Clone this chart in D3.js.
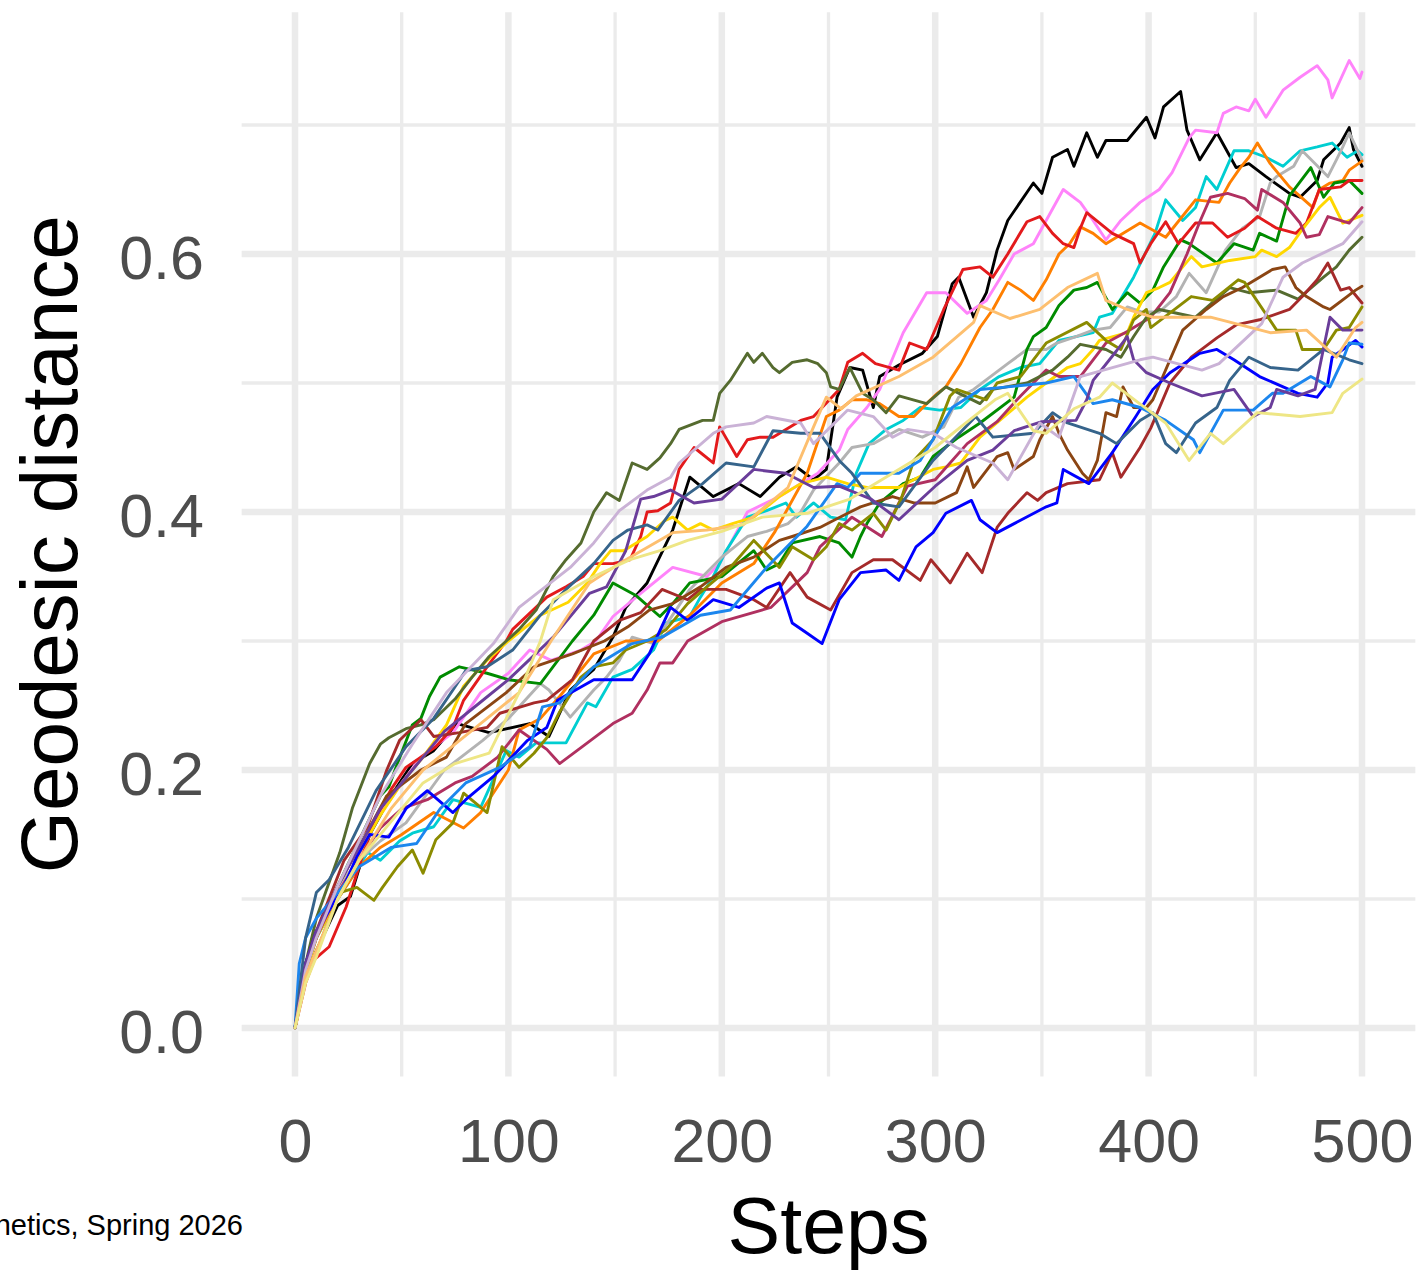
<!DOCTYPE html>
<html>
<head>
<meta charset="utf-8">
<script src="https://cdn.jsdelivr.net/npm/d3@7"></script>
<style>
  body { margin: 0; background: #fff; }
  text { font-family: "Liberation Sans", Arial, Helvetica, sans-serif; }
</style>
</head>
<body>
<div id="chart-area"></div>
<script>
// ---- data as [step, geodesic distance] ----
const black = [[0,0],[5,.04],[10,.06],[20,.095],[26,.102],[35,.15],[45,.18],[55,.205],[65,.215],[76,.236],[91,.229],[110,.236],[119,.226],[129,.262],[140,.278],[149,.303],[155,.326],[165,.345],[177,.386],[185,.427],[196,.412],[208,.422],[218,.412],[227,.427],[235,.435],[243,.425],[249,.433],[254,.489],[260,.512],[266,.51],[271,.481],[274,.505],[283,.514],[294,.523],[301,.536],[308,.577],[311,.582],[318,.551],[324,.57],[329,.603],[334,.626],[346,.655],[350,.647],[355,.675],[362,.681],[365,.668],[371,.694],[376,.675],[380,.688],[390,.688],[399,.706],[403,.69],[407,.714],[415,.726],[418,.696],[424,.673],[432,.694],[441,.667],[447,.67],[455,.66],[466,.647],[471,.644],[479,.657],[482,.673],[490,.686],[494,.698],[496,.681],[500,.668]];
const orchid = [[0,0],[5,.045],[10,.075],[20,.11],[26,.12],[38,.161],[50,.19],[59,.21],[74,.229],[87,.26],[100,.275],[110,.293],[120,.285],[134,.293],[141,.30],[149,.319],[162,.337],[177,.357],[193,.35],[199,.36],[212,.40],[227,.412],[235,.42],[245,.43],[255,.448],[259,.464],[268,.481],[274,.495],[285,.539],[296,.57],[305,.57],[315,.554],[324,.564],[330,.58],[337,.60],[346,.608],[352,.626],[360,.65],[368,.64],[374,.626],[380,.611],[387,.626],[396,.64],[405,.65],[411,.663],[419,.69],[422,.696],[432,.694],[435,.709],[441,.714],[447,.711],[450,.72],[455,.706],[463,.727],[471,.737],[479,.746],[484,.735],[486,.721],[494,.75],[499,.736],[500,.741]];
const turquoise = [[0,0],[5,.05],[10,.07],[20,.10],[28,.12],[34,.136],[40,.13],[49,.145],[55,.151],[65,.156],[74,.177],[87,.171],[99,.215],[105,.21],[113,.221],[121,.221],[127,.221],[137,.252],[141,.249],[149,.272],[158,.278],[168,.293],[174,.314],[185,.319],[190,.334],[196,.35],[202,.37],[212,.396],[221,.401],[230,.407],[235,.396],[243,.407],[251,.396],[258,.394],[263,.43],[269,.453],[277,.464],[285,.471],[293,.481],[302,.479],[312,.481],[321,.495],[330,.505],[340,.512],[349,.515],[358,.533],[366,.536],[374,.539],[377,.551],[383,.554],[393,.582],[403,.616],[408,.642],[416,.626],[422,.636],[427,.66],[432,.65],[440,.68],[447,.68],[455,.675],[463,.668],[471,.68],[479,.683],[486,.686],[493,.675],[498,.68],[500,.677]];
const gray = [[0,0],[5,.045],[10,.07],[20,.11],[30,.13],[40,.145],[52,.159],[70,.20],[88,.223],[100,.24],[115,.267],[119,.262],[129,.241],[140,.262],[146,.272],[152,.285],[158,.303],[168,.298],[185,.34],[200,.365],[212,.381],[221,.385],[231,.391],[237,.40],[243,.417],[255,.438],[261,.45],[271,.453],[283,.464],[294,.458],[304,.466],[311,.489],[318,.495],[334,.515],[343,.526],[352,.526],[357,.531],[366,.536],[374,.541],[382,.543],[390,.559],[397,.555],[405,.555],[413,.567],[419,.585],[427,.57],[436,.603],[444,.62],[452,.629],[457,.655],[460,.66],[468,.668],[472,.68],[484,.66],[488,.673],[491,.683],[494,.694],[500,.673]];
const orange = [[0,0],[5,.05],[10,.075],[20,.10],[30,.125],[40,.14],[50,.15],[65,.167],[79,.155],[87,.167],[100,.20],[105,.231],[115,.24],[124,.257],[140,.29],[155,.30],[170,.30],[185,.32],[200,.345],[215,.36],[225,.385],[240,.43],[249,.474],[255,.479],[261,.487],[268,.487],[274,.484],[283,.474],[290,.474],[296,.484],[301,.492],[305,.497],[312,.515],[321,.543],[327,.557],[334,.578],[340,.572],[346,.564],[352,.58],[358,.60],[363,.608],[368,.621],[374,.616],[380,.608],[396,.624],[408,.613],[422,.642],[433,.64],[438,.655],[443,.667],[447,.675],[451,.686],[457,.67],[466,.652],[477,.636],[480,.65],[485,.655],[491,.657],[494,.665],[500,.672]];
const green = [[0,0],[5,.045],[10,.07],[20,.11],[30,.145],[40,.18],[44,.187],[48,.205],[55,.235],[59,.24],[63,.257],[68,.272],[77,.28],[90,.275],[100,.27],[115,.267],[130,.30],[140,.32],[149,.345],[160,.335],[171,.319],[177,.329],[185,.345],[200,.35],[215,.37],[221,.355],[227,.36],[233,.376],[246,.381],[255,.376],[261,.365],[265,.381],[268,.391],[274,.407],[285,.422],[293,.427],[299,.443],[311,.458],[321,.469],[337,.489],[343,.526],[346,.536],[352,.543],[358,.56],[365,.572],[371,.574],[376,.578],[383,.557],[390,.57],[396,.562],[402,.572],[407,.59],[415,.611],[419,.608],[432,.593],[440,.608],[449,.603],[452,.616],[460,.61],[466,.645],[476,.667],[482,.644],[487,.655],[494,.657],[500,.647]];
const red = [[0,0],[5,.035],[9,.053],[16,.063],[24,.094],[30,.125],[37,.16],[45,.185],[52,.202],[59,.21],[66,.218],[74,.233],[79,.254],[90,.28],[99,.30],[102,.309],[118,.334],[127,.342],[135,.35],[140,.36],[149,.36],[157,.363],[162,.381],[165,.40],[170,.401],[176,.407],[180,.433],[187,.45],[196,.438],[199,.466],[207,.443],[212,.456],[218,.458],[224,.458],[231,.465],[237,.471],[243,.474],[255,.495],[259,.516],[266,.523],[272,.515],[283,.51],[288,.531],[296,.526],[304,.557],[313,.588],[321,.59],[327,.582],[334,.60],[343,.625],[349,.629],[355,.616],[360,.608],[365,.605],[368,.62],[371,.632],[383,.616],[393,.608],[396,.593],[401,.608],[408,.625],[414,.608],[422,.624],[430,.624],[437,.613],[445,.62],[451,.629],[460,.62],[469,.616],[474,.624],[480,.65],[490,.652],[494,.657],[500,.657]];
const gold = [[0,0],[5,.04],[10,.07],[20,.10],[30,.135],[40,.165],[50,.19],[60,.21],[71,.235],[79,.265],[90,.285],[100,.30],[115,.32],[128,.33],[137,.345],[143,.36],[148,.37],[154,.37],[165,.381],[173,.393],[177,.396],[184,.386],[190,.391],[196,.386],[205,.391],[215,.396],[227,.412],[237,.422],[249,.427],[259,.422],[268,.419],[283,.419],[299,.433],[305,.435],[312,.438],[321,.458],[343,.489],[352,.50],[362,.512],[368,.515],[374,.526],[377,.533],[390,.539],[393,.551],[399,.57],[405,.574],[410,.578],[420,.598],[425,.59],[438,.595],[450,.598],[453,.603],[460,.598],[466,.605],[472,.619],[480,.636],[485,.644],[491,.624],[500,.63]];
const maroon = [[0,0],[5,.05],[10,.07],[20,.105],[30,.13],[40,.155],[50,.17],[62,.177],[75,.19],[83,.195],[95,.21],[105,.231],[118,.216],[124,.205],[137,.221],[149,.236],[158,.244],[165,.262],[171,.283],[177,.283],[184,.30],[200,.315],[223,.326],[240,.353],[246,.373],[261,.396],[275,.381],[287,.42],[300,.425],[315,.453],[329,.47],[340,.49],[352,.51],[358,.505],[368,.505],[380,.531],[390,.54],[401,.551],[410,.57],[418,.60],[424,.625],[429,.644],[437,.647],[445,.643],[451,.634],[453,.65],[463,.64],[471,.624],[474,.613],[480,.615],[484,.629],[494,.624],[500,.636]];
const oliveDrab = [[0,0],[5,.05],[10,.085],[21,.136],[27,.171],[35,.205],[40,.22],[44,.225],[52,.232],[59,.235],[65,.239],[75,.255],[83,.272],[91,.288],[105,.309],[113,.324],[121,.35],[127,.363],[134,.376],[140,.40],[146,.415],[152,.409],[158,.438],[165,.433],[171,.442],[176,.453],[180,.464],[191,.471],[196,.471],[199,.492],[204,.502],[212,.523],[215,.516],[219,.523],[224,.512],[227,.508],[233,.516],[240,.518],[245,.515],[249,.508],[251,.497],[255,.495],[260,.512],[266,.492],[271,.487],[277,.477],[283,.49],[296,.484],[305,.497],[321,.484],[327,.495],[343,.50],[355,.51],[362,.52],[368,.53],[380,.526],[387,.52],[393,.536],[399,.551],[405,.557],[422,.551],[438,.574],[447,.57],[460,.572],[470,.565],[482,.582],[488,.59],[494,.603],[500,.613]];
const brown = [[0,0],[5,.05],[10,.075],[23,.13],[34,.156],[43,.20],[49,.223],[59,.239],[65,.226],[77,.229],[90,.233],[96,.244],[112,.252],[118,.254],[130,.27],[140,.30],[152,.316],[162,.322],[172,.34],[184,.332],[190,.34],[202,.34],[215,.332],[221,.326],[232,.353],[240,.334],[251,.324],[261,.353],[271,.363],[280,.363],[293,.347],[298,.363],[307,.345],[315,.368],[322,.353],[329,.388],[334,.399],[343,.415],[348,.409],[352,.415],[362,.422],[377,.425],[383,.446],[387,.427],[396,.45],[401,.465],[410,.50],[420,.52],[432,.535],[441,.545],[452,.549],[466,.557],[472,.567],[479,.58],[484,.593],[490,.572],[494,.574],[500,.562]];
const saddle = [[0,0],[5,.045],[10,.07],[20,.11],[30,.14],[43,.18],[59,.20],[71,.21],[80,.236],[99,.26],[112,.28],[130,.29],[145,.30],[156,.311],[166,.324],[177,.329],[190,.342],[202,.357],[215,.365],[227,.378],[233,.381],[246,.388],[253,.394],[259,.399],[265,.404],[280,.412],[290,.407],[300,.407],[310,.415],[315,.435],[318,.419],[329,.443],[334,.446],[337,.433],[346,.443],[349,.456],[355,.474],[358,.461],[362,.448],[369,.43],[372,.425],[376,.44],[380,.477],[385,.474],[388,.497],[393,.481],[399,.481],[402,.487],[416,.541],[427,.557],[435,.567],[444,.574],[452,.582],[458,.588],[464,.59],[469,.574],[474,.567],[482,.559],[485,.557],[493,.567],[497,.572],[500,.575]];
const olive = [[0,0],[5,.04],[9,.055],[21,.105],[29,.109],[37,.099],[41,.109],[48,.125],[55,.138],[60,.12],[66,.146],[74,.159],[79,.182],[90,.167],[97,.218],[105,.202],[112,.213],[118,.225],[124,.245],[134,.272],[140,.28],[149,.283],[155,.293],[165,.30],[174,.309],[184,.329],[193,.342],[204,.357],[215,.378],[227,.357],[233,.373],[243,.363],[249,.373],[255,.391],[261,.386],[271,.399],[277,.386],[284,.41],[290,.44],[299,.456],[307,.49],[310,.495],[324,.487],[329,.50],[340,.505],[352,.531],[371,.547],[380,.533],[387,.526],[393,.549],[399,.557],[401,.543],[420,.567],[430,.564],[442,.58],[445,.578],[460,.541],[469,.541],[472,.526],[482,.526],[488,.541],[494,.543],[500,.559]];
const blue = [[0,0],[5,.05],[10,.075],[23,.11],[29,.133],[35,.15],[44,.148],[52,.17],[62,.184],[74,.167],[80,.177],[93,.195],[109,.223],[118,.233],[123,.254],[140,.27],[158,.27],[166,.29],[176,.326],[184,.316],[196,.332],[208,.326],[221,.341],[227,.345],[233,.314],[240,.306],[247,.298],[255,.332],[265,.353],[277,.355],[283,.347],[291,.373],[299,.384],[305,.399],[317,.409],[321,.394],[329,.384],[337,.391],[352,.404],[357,.407],[360,.433],[372,.422],[383,.446],[394,.474],[402,.495],[410,.508],[424,.523],[432,.526],[440,.518],[452,.505],[470,.492],[479,.489],[484,.50],[486,.52],[497,.533],[500,.528]];
const dodger = [[0,0],[2,.05],[5,.07],[10,.085],[20,.105],[30,.125],[45,.14],[57,.143],[68,.17],[80,.19],[96,.202],[110,.218],[116,.249],[124,.252],[140,.28],[158,.298],[172,.303],[190,.32],[204,.324],[221,.357],[240,.389],[254,.422],[259,.419],[265,.43],[283,.43],[293,.44],[308,.481],[321,.495],[334,.497],[352,.50],[365,.505],[374,.484],[383,.487],[396,.481],[408,.471],[421,.456],[424,.446],[435,.479],[449,.479],[458,.492],[463,.492],[476,.505],[485,.497],[491,.518],[494,.531],[500,.53]];
const steel = [[0,0],[5,.07],[10,.105],[16,.115],[25,.14],[38,.184],[52,.218],[65,.24],[74,.262],[80,.277],[90,.28],[102,.293],[115,.32],[127,.34],[140,.36],[149,.378],[156,.386],[165,.39],[170,.386],[180,.409],[191,.422],[202,.438],[215,.435],[224,.463],[237,.461],[246,.461],[255,.44],[261,.43],[271,.407],[283,.404],[299,.44],[319,.474],[327,.458],[346,.461],[355,.477],[362,.469],[377,.461],[385,.453],[396,.471],[402,.477],[408,.453],[413,.446],[422,.469],[432,.481],[438,.502],[447,.52],[457,.512],[470,.51],[482,.526],[494,.518],[500,.515]];
const purple = [[0,0],[5,.05],[10,.075],[20,.11],[30,.14],[40,.17],[55,.20],[70,.23],[85,.25],[100,.27],[121,.303],[138,.337],[146,.342],[155,.37],[162,.41],[168,.412],[176,.417],[187,.407],[200,.41],[215,.433],[230,.43],[243,.419],[255,.42],[270,.41],[283,.394],[300,.42],[315,.44],[327,.448],[337,.463],[350,.47],[366,.471],[371,.487],[374,.502],[385,.525],[390,.536],[393,.518],[399,.508],[410,.50],[425,.49],[440,.495],[449,.474],[457,.481],[460,.495],[470,.49],[478,.495],[485,.551],[491,.541],[500,.541]];
const thistle = [[0,0],[5,.045],[10,.07],[20,.11],[40,.18],[55,.22],[71,.26],[93,.298],[105,.326],[129,.357],[140,.376],[152,.401],[165,.417],[176,.427],[180,.438],[196,.461],[202,.466],[215,.469],[221,.474],[237,.469],[243,.453],[259,.479],[271,.474],[280,.458],[287,.464],[299,.461],[310,.45],[327,.438],[334,.425],[349,.469],[358,.458],[368,.505],[396,.518],[402,.52],[425,.51],[433,.515],[453,.546],[463,.582],[472,.593],[491,.608],[500,.625]];
const tan = [[0,0],[5,.04],[10,.06],[20,.10],[30,.13],[45,.17],[60,.20],[75,.22],[90,.24],[105,.26],[120,.30],[138,.345],[152,.36],[177,.384],[193,.386],[210,.39],[231,.419],[243,.466],[249,.489],[256,.48],[263,.49],[283,.505],[299,.52],[318,.547],[321,.56],[335,.55],[349,.557],[362,.574],[376,.585],[380,.564],[390,.557],[402,.551],[429,.551],[457,.539],[474,.541],[488,.52],[497,.543],[500,.547]];
const khaki = [[0,0],[5,.035],[10,.055],[20,.10],[30,.13],[45,.16],[60,.19],[75,.205],[91,.213],[105,.26],[115,.30],[121,.332],[140,.35],[157,.363],[171,.37],[184,.378],[200,.385],[219,.396],[240,.399],[260,.41],[280,.43],[300,.45],[312,.466],[328,.487],[334,.492],[346,.463],[352,.461],[365,.48],[377,.489],[383,.50],[395,.485],[408,.469],[419,.44],[429,.461],[435,.453],[451,.477],[471,.474],[486,.477],[491,.492],[500,.503]];

const walks = [black, orchid, turquoise, gray, orange, green, red, gold, maroon, oliveDrab,
    brown, saddle, olive, blue, dodger, steel, purple, thistle, tan, khaki];
const walkColors = ["#000000", "#FF83FA", "#00CED1", "#B3B3B3", "#FF7F00", "#008B00", "#E31A1C", "#FFD700", "#B03060", "#556B2F",
    "#A52A2A", "#8B4513", "#8B8B00", "#0000FF", "#1C86EE", "#36648B", "#6A3D9A", "#CAB2D6", "#FDBF6F", "#EEE685"];

const xTicks = [0, 100, 200, 300, 400, 500];
const xMinor = [50, 150, 250, 350, 450];
const yTicks = [0, 0.2, 0.4, 0.6];
const yMinor = [0.1, 0.3, 0.5, 0.7];

const W = 1420, H = 1271;

const svg = d3.select("#chart-area")
    .append("svg")
    .attr("width", W)
    .attr("height", H);

// panel limits (ggplot's 5% expansion)
const x = d3.scaleLinear()
    .domain([-25, 525])
    .range([241.65, 1415.35]);

const y = d3.scaleLinear()
    .domain([-0.0375, 0.7875])
    .range([1076.375, 12.125]);

const grid = svg.append("g").attr("class", "grid");

// minor grid
grid.selectAll(".vminor")
    .data(xMinor)
    .enter().append("line")
    .attr("x1", function(d) { return x(d); })
    .attr("x2", function(d) { return x(d); })
    .attr("y1", y.range()[0])
    .attr("y2", y.range()[1])
    .attr("stroke", "#EBEBEB")
    .attr("stroke-width", 3.3);

grid.selectAll(".hminor")
    .data(yMinor)
    .enter().append("line")
    .attr("y1", function(d) { return y(d); })
    .attr("y2", function(d) { return y(d); })
    .attr("x1", x.range()[0])
    .attr("x2", x.range()[1])
    .attr("stroke", "#EBEBEB")
    .attr("stroke-width", 3.3);

// major grid
grid.selectAll(".vmajor")
    .data(xTicks)
    .enter().append("line")
    .attr("x1", function(d) { return x(d); })
    .attr("x2", function(d) { return x(d); })
    .attr("y1", y.range()[0])
    .attr("y2", y.range()[1])
    .attr("stroke", "#EBEBEB")
    .attr("stroke-width", 6.5);

grid.selectAll(".hmajor")
    .data(yTicks)
    .enter().append("line")
    .attr("y1", function(d) { return y(d); })
    .attr("y2", function(d) { return y(d); })
    .attr("x1", x.range()[0])
    .attr("x2", x.range()[1])
    .attr("stroke", "#EBEBEB")
    .attr("stroke-width", 6.5);

// the walks
const line = d3.line()
    .x(function(d) { return x(d[0]); })
    .y(function(d) { return y(d[1]); });

svg.append("g")
    .selectAll("path")
    .data(walks)
    .enter().append("path")
    .attr("d", line)
    .attr("fill", "none")
    .attr("stroke", function(d, i) { return walkColors[i]; })
    .attr("stroke-width", 2.9)
    .attr("stroke-linejoin", "round")
    .attr("stroke-linecap", "round");

// axes, ggplot theme_minimal style: labels only
const xAxis = svg.append("g")
    .attr("transform", "translate(0," + (y.range()[0] + 86) + ")")
    .call(d3.axisBottom(x).tickValues(xTicks).tickSize(0).tickPadding(0).tickFormat(d3.format("d")));
xAxis.select(".domain").remove();
xAxis.selectAll("text")
    .attr("dy", 0)
    .attr("font-size", "61px")
    .attr("fill", "#4D4D4D")
    .style("font-family", "'Liberation Sans', Arial, Helvetica, sans-serif");

const yAxis = svg.append("g")
    .attr("transform", "translate(204,0)")
    .call(d3.axisLeft(y).tickValues(yTicks).tickSize(0).tickPadding(0).tickFormat(d3.format(".1f")));
yAxis.select(".domain").remove();
yAxis.selectAll("text")
    .attr("dy", 24)
    .attr("font-size", "61px")
    .attr("fill", "#4D4D4D")
    .style("font-family", "'Liberation Sans', Arial, Helvetica, sans-serif");

// titles
svg.append("text")
    .attr("x", (x.range()[0] + x.range()[1]) / 2)
    .attr("y", 1253)
    .attr("font-size", "79px")
    .attr("text-anchor", "middle")
    .attr("fill", "#000")
    .text("Steps");

svg.append("text")
    .attr("transform", "translate(77," + ((y.range()[0] + y.range()[1]) / 2) + ") rotate(-90)")
    .attr("font-size", "80px")
    .attr("text-anchor", "middle")
    .attr("fill", "#000")
    .text("Geodesic distance");

// caption, runs off the left edge as in the original
svg.append("text")
    .attr("x", 243)
    .attr("y", 1235)
    .attr("font-size", "29px")
    .attr("text-anchor", "end")
    .attr("fill", "#000")
    .text("Population Genetics, Spring 2026");
</script>
</body>
</html>
